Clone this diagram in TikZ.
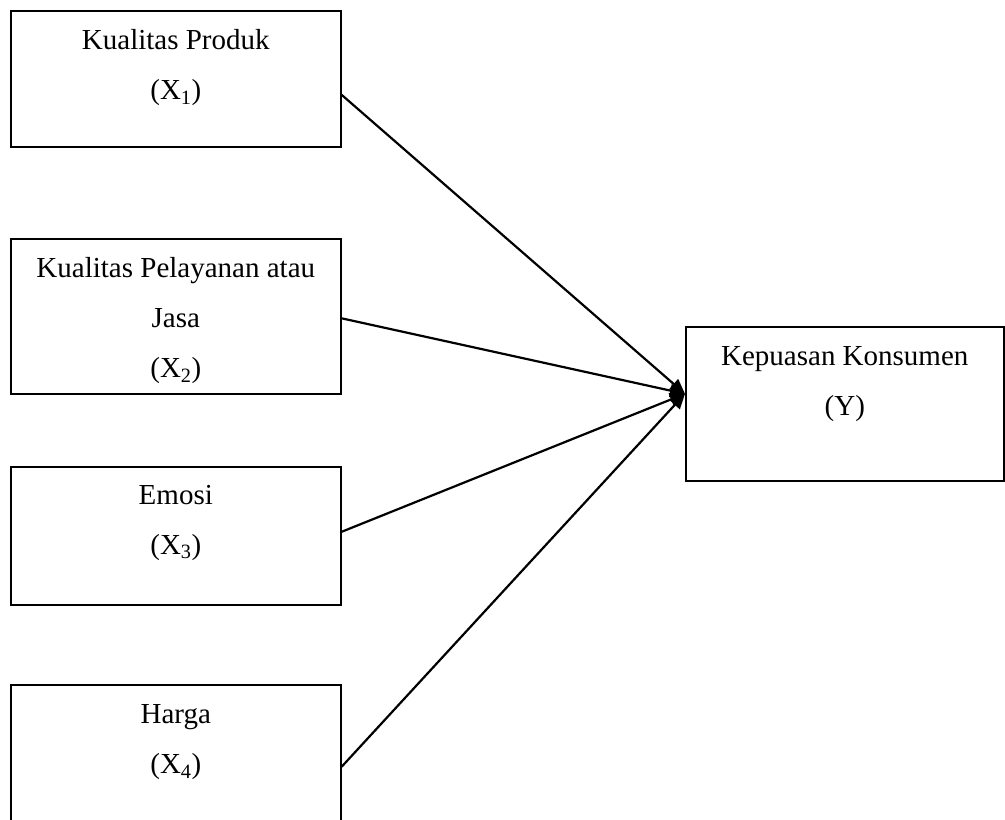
\documentclass[tikz,border=0pt]{standalone}
\usepackage{fontspec}
\setmainfont{Liberation Serif}
\usepackage{tikz}
\usetikzlibrary{arrows.meta}

\begin{document}
\begin{tikzpicture}[
    x=1pt, y=-1pt,
    varbox/.style={draw, line width=1.6pt, rectangle, inner sep=0pt, anchor=north west,
        font=\fontsize{29}{50}\selectfont},
    varline/.style={line width=2.2pt, -{Triangle[length=15pt, width=13pt]}}
]
    \useasboundingbox (0,0) rectangle (1005,820);

	\node [varbox] (x1) at (10,10) {\parbox[t][136pt][t]{330pt}{\centering\vspace{19pt}Kualitas Produk\\(X\textsubscript{1})}};
	\node [varbox] (x2) at (10,238) {\parbox[t][155pt][t]{330pt}{\centering\vspace{19pt}Kualitas Pelayanan atau\\Jasa\\(X\textsubscript{2})}};
	\node [varbox] (x3) at (10,466) {\parbox[t][138pt][t]{330pt}{\centering\vspace{18pt}Emosi\\(X\textsubscript{3})}};
	\node [varbox] (x4) at (10,684) {\parbox[t][140pt][t]{330pt}{\centering\vspace{20pt}Harga\\(X\textsubscript{4})}};
	\node [varbox] (y) at (685,326) {\parbox[t][154pt][t]{318pt}{\centering\vspace{20pt}Kepuasan Konsumen\\(Y)}};

	\coordinate (tip) at ([yshift=10pt]y.west);
	\draw [varline] ([yshift=-16pt]x1.east) -- (tip);
	\draw [varline] ([yshift=-2pt]x2.east) -- (tip);
	\draw [varline] ([yshift=4pt]x3.east) -- (tip);
	\draw [varline] ([yshift=-12pt]x4.east) -- (tip);
\end{tikzpicture}
\end{document}
